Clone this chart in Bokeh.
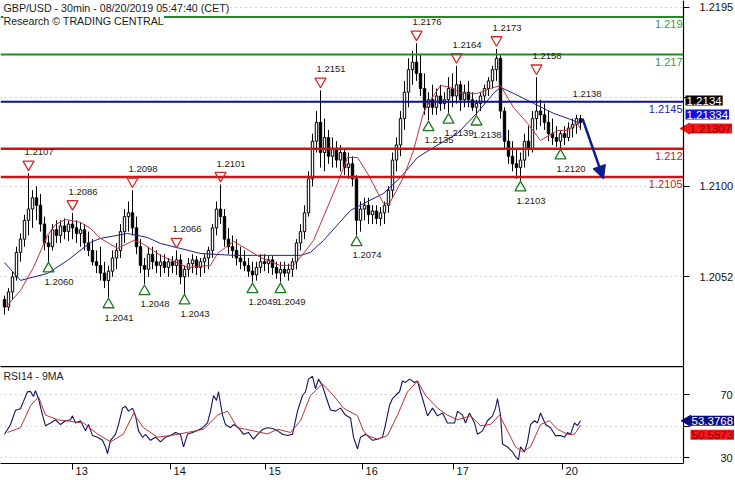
import math
from bokeh.plotting import figure
from bokeh.layouts import column
from bokeh.models import (Range1d, LinearAxis, FixedTicker, Label, Arrow, BoxAnnotation,
                          NormalHead, ColumnDataSource)
from bokeh.embed import file_html
from bokeh.resources import INLINE
from bokeh.core.properties import value

FONT = "Liberation Sans"

# ---------------- data (30-min GBP/USD, sampled per bar index) ----------------
opens = [1.2040, 1.2036, 1.2044, 1.2052, 1.2065, 1.2072, 1.2082, 1.2088, 1.2094, 1.2090,
         1.2080, 1.2070, 1.2068, 1.2077, 1.2074, 1.2079, 1.2076, 1.2080, 1.2078, 1.2075,
         1.2077, 1.2070, 1.2066, 1.2060, 1.2058, 1.2054, 1.2050, 1.2055, 1.2062, 1.2066,
         1.2076, 1.2084, 1.2086, 1.2078, 1.2068, 1.2058, 1.2056, 1.2064, 1.2060, 1.2058,
         1.2060, 1.2057, 1.2060, 1.2058, 1.2061, 1.2052, 1.2056, 1.2059, 1.2061, 1.2057,
         1.2060, 1.2062, 1.2066, 1.2078, 1.2088, 1.2084, 1.2072, 1.2068, 1.2066, 1.2062,
         1.2060, 1.2058, 1.2055, 1.2053, 1.2057, 1.2060, 1.2059, 1.2061, 1.2057, 1.2054,
         1.2056, 1.2054, 1.2056, 1.2060, 1.2070, 1.2076, 1.2086, 1.2104, 1.2124, 1.2134,
         1.2118, 1.2126, 1.2116, 1.2120, 1.2114, 1.2118, 1.2110, 1.2112, 1.2104, 1.2082,
         1.2088, 1.2090, 1.2085, 1.2087, 1.2083, 1.2086, 1.2090, 1.2098, 1.2114, 1.2122,
         1.2136, 1.2150, 1.2162, 1.2166, 1.2160, 1.2152, 1.2142, 1.2146, 1.2142, 1.2148,
         1.2144, 1.2146, 1.2152, 1.2148, 1.2154, 1.2146, 1.2150, 1.2146, 1.2142, 1.2144,
         1.2148, 1.2152, 1.2156, 1.2162, 1.2168, 1.2140, 1.2124, 1.2116, 1.2112, 1.2110,
         1.2114, 1.2124, 1.2120, 1.2136, 1.2140, 1.2138, 1.2134, 1.2128, 1.2126, 1.2124,
         1.2128, 1.2126, 1.2131, 1.2133, 1.2136]
highs = [1.2042, 1.2046, 1.2055, 1.2068, 1.2075, 1.2085, 1.2107, 1.2098, 1.2100, 1.2096,
         1.2084, 1.2074, 1.2080, 1.2082, 1.2082, 1.2083, 1.2082, 1.2086, 1.2082, 1.2081,
         1.2080, 1.2076, 1.2072, 1.2066, 1.2068, 1.2060, 1.2058, 1.2066, 1.2070, 1.2080,
         1.2088, 1.2092, 1.2098, 1.2084, 1.2072, 1.2062, 1.2068, 1.2068, 1.2066, 1.2064,
         1.2064, 1.2062, 1.2063, 1.2066, 1.2064, 1.2058, 1.2062, 1.2064, 1.2063, 1.2062,
         1.2064, 1.2068, 1.2080, 1.2092, 1.2101, 1.2088, 1.2078, 1.2074, 1.2072, 1.2068,
         1.2066, 1.2062, 1.2060, 1.2060, 1.2064, 1.2064, 1.2063, 1.2063, 1.2060, 1.2060,
         1.2060, 1.2059, 1.2062, 1.2072, 1.2080, 1.2090, 1.2108, 1.2128, 1.2140, 1.2151,
         1.2136, 1.2130, 1.2126, 1.2124, 1.2122, 1.2120, 1.2118, 1.2116, 1.2106, 1.2092,
         1.2094, 1.2094, 1.2090, 1.2090, 1.2089, 1.2092, 1.2100, 1.2118, 1.2126, 1.2140,
         1.2156, 1.2168, 1.2172, 1.2176, 1.2170, 1.2160, 1.2150, 1.2154, 1.2152, 1.2154,
         1.2150, 1.2158, 1.2160, 1.2164, 1.2156, 1.2154, 1.2156, 1.2150, 1.2146, 1.2150,
         1.2154, 1.2158, 1.2164, 1.2173, 1.2170, 1.2142, 1.2130, 1.2124, 1.2120, 1.2118,
         1.2128, 1.2132, 1.2140, 1.2158, 1.2146, 1.2144, 1.2140, 1.2136, 1.2132, 1.2130,
         1.2132, 1.2134, 1.2136, 1.2138, 1.2138]
lows = [1.2032, 1.2034, 1.2040, 1.2050, 1.2060, 1.2068, 1.2074, 1.2078, 1.2082, 1.2076,
        1.2066, 1.2060, 1.2066, 1.2070, 1.2070, 1.2072, 1.2071, 1.2072, 1.2070, 1.2068,
        1.2066, 1.2063, 1.2058, 1.2054, 1.2050, 1.2046, 1.2041, 1.2052, 1.2056, 1.2062,
        1.2070, 1.2076, 1.2074, 1.2064, 1.2054, 1.2048, 1.2052, 1.2056, 1.2054, 1.2052,
        1.2054, 1.2052, 1.2054, 1.2053, 1.2048, 1.2043, 1.2052, 1.2054, 1.2053, 1.2052,
        1.2054, 1.2056, 1.2062, 1.2074, 1.2080, 1.2068, 1.2064, 1.2062, 1.2058, 1.2056,
        1.2055, 1.2052, 1.2049, 1.2050, 1.2054, 1.2055, 1.2054, 1.2053, 1.2051, 1.2049,
        1.2052, 1.2050, 1.2052, 1.2056, 1.2066, 1.2072, 1.2084, 1.2100, 1.2118, 1.2110,
        1.2108, 1.2112, 1.2110, 1.2110, 1.2108, 1.2106, 1.2104, 1.2100, 1.2074, 1.2076,
        1.2082, 1.2080, 1.2080, 1.2080, 1.2079, 1.2080, 1.2086, 1.2094, 1.2108, 1.2116,
        1.2130, 1.2142, 1.2154, 1.2156, 1.2148, 1.2138, 1.2135, 1.2138, 1.2138, 1.2140,
        1.2141, 1.2139, 1.2142, 1.2144, 1.2140, 1.2142, 1.2142, 1.2140, 1.2138, 1.2140,
        1.2144, 1.2148, 1.2152, 1.2156, 1.2136, 1.2120, 1.2112, 1.2108, 1.2104, 1.2103,
        1.2110, 1.2116, 1.2118, 1.2130, 1.2132, 1.2130, 1.2124, 1.2122, 1.2121, 1.2120,
        1.2122, 1.2124, 1.2126, 1.2128, 1.2130]
closes = [1.2036, 1.2044, 1.2052, 1.2065, 1.2072, 1.2082, 1.2088, 1.2094, 1.2090, 1.2080,
          1.2070, 1.2068, 1.2077, 1.2074, 1.2079, 1.2076, 1.2080, 1.2078, 1.2075, 1.2077,
          1.2070, 1.2066, 1.2060, 1.2058, 1.2054, 1.2050, 1.2055, 1.2062, 1.2066, 1.2076,
          1.2084, 1.2086, 1.2078, 1.2068, 1.2058, 1.2056, 1.2064, 1.2060, 1.2058, 1.2060,
          1.2057, 1.2060, 1.2058, 1.2061, 1.2052, 1.2056, 1.2059, 1.2061, 1.2057, 1.2060,
          1.2062, 1.2066, 1.2078, 1.2088, 1.2084, 1.2072, 1.2068, 1.2066, 1.2062, 1.2060,
          1.2058, 1.2055, 1.2053, 1.2057, 1.2060, 1.2059, 1.2061, 1.2057, 1.2054, 1.2056,
          1.2054, 1.2056, 1.2060, 1.2070, 1.2076, 1.2086, 1.2104, 1.2124, 1.2134, 1.2118,
          1.2126, 1.2116, 1.2120, 1.2114, 1.2118, 1.2110, 1.2112, 1.2104, 1.2082, 1.2088,
          1.2090, 1.2085, 1.2087, 1.2083, 1.2086, 1.2090, 1.2098, 1.2114, 1.2122, 1.2136,
          1.2150, 1.2162, 1.2166, 1.2160, 1.2152, 1.2142, 1.2146, 1.2142, 1.2148, 1.2144,
          1.2146, 1.2152, 1.2148, 1.2154, 1.2146, 1.2150, 1.2146, 1.2142, 1.2144, 1.2148,
          1.2152, 1.2156, 1.2162, 1.2168, 1.2140, 1.2124, 1.2116, 1.2112, 1.2110, 1.2114,
          1.2124, 1.2120, 1.2136, 1.2140, 1.2138, 1.2134, 1.2128, 1.2126, 1.2124, 1.2128,
          1.2126, 1.2131, 1.2133, 1.2136, 1.2134]

# moving averages drawn on the price panel (bar index, price)
ma_fast_idx = [0.25, 4, 7.25, 10.75, 12.75, 15.25, 19, 21.5, 24, 28.25,
               32.25, 34, 39, 45.75, 51.5, 53.25, 57.25, 60.25, 64, 68.75,
               72.25, 74.75, 77.25, 83.25, 85.75, 88.25, 90.75, 94.75, 96.25, 99.75,
               102.25, 104.75, 106.5, 109, 111.5, 114, 118.25, 121.5, 124, 127.25,
               130.75, 134, 138.25, 140.75, 143.25, 144]
ma_fast_val = [1.20357, 1.20448, 1.20570, 1.20740, 1.20798, 1.20825, 1.20809, 1.20777, 1.20724, 1.20671,
               1.20713, 1.20703, 1.20634, 1.20570, 1.20581, 1.20644, 1.20708, 1.20671, 1.20623, 1.20581,
               1.20581, 1.20644, 1.20713, 1.21016, 1.21154, 1.21154, 1.21069, 1.20910, 1.20910, 1.21048,
               1.21191, 1.21393, 1.21457, 1.21536, 1.21526, 1.21494, 1.21494, 1.21520, 1.21536, 1.21419,
               1.21335, 1.21244, 1.21297, 1.21297, 1.21335, 1.21307]
ma_slow_idx = [0, 4, 10.75, 15.75, 21.5, 24, 30.75, 35.75, 39, 49,
               57.25, 74, 76.5, 79.75, 86.5, 94.75, 99, 103.25, 107.25, 113.25,
               118.25, 122.25, 124, 127.25, 132.25, 137.25, 142.25, 144]
ma_slow_val = [1.20596, 1.20501, 1.20538, 1.20607, 1.20703, 1.20724, 1.20750, 1.20729, 1.20697, 1.20644,
               1.20634, 1.20634, 1.20650, 1.20713, 1.20873, 1.20963, 1.21048, 1.21154, 1.21207, 1.21281,
               1.21393, 1.21494, 1.21526, 1.21494, 1.21441, 1.21388, 1.21350, 1.21334]

# pivots
peak_idx = [6, 17, 32, 43, 54, 79, 103, 113, 123, 133]
peak_val = [1.2107, 1.2086, 1.2098, 1.2066, 1.2101, 1.2151, 1.2176, 1.2164, 1.2173, 1.2158]
pending_peak_idx = [143]
pending_peak_val = [1.2138]
trough_idx = [11, 26, 35, 45, 62, 69, 88, 106, 111, 118, 129, 139]
trough_val = [1.2060, 1.2041, 1.2048, 1.2043, 1.2049, 1.2049, 1.2074, 1.2135, 1.2139, 1.2138, 1.2103, 1.2120]

# key levels
levels = [1.2190, 1.2170, 1.2145, 1.2120, 1.2105]
level_labels = ["1.219", "1.217", "1.2145", "1.212", "1.2105"]
level_kind = ["res", "res", "pivot", "sup", "sup"]

# forecast arrow (bar index, price)
forecast_idx = [144.5, 149.75]
forecast_val = [1.2136, 1.2104]

# last values shown as tags
last_close = 1.2134
last_ma_slow = 1.21334
last_ma_fast = 1.21307

price_ticks = [1.2052, 1.2100, 1.2147, 1.2195]

# RSI14 and its 9MA
rsi_idx = [0, 1.5, 2.75, 4, 4.75, 5.75, 6.5, 7.25, 7.75, 8.5,
           9.5, 10.25, 11.5, 12.75, 14, 15.25, 16.5, 17, 17.75, 19,
           20.25, 21, 22, 23.25, 24.5, 25.25, 25.75, 26.5, 27.75, 28.5,
           29.5, 30.25, 31, 32, 32.75, 33.5, 34.5, 35.25, 36.5, 37.75,
           39, 40.25, 41.5, 42.75, 44, 44.75, 45.75, 47, 48.25, 49.5,
           50.75, 51.5, 52.25, 53, 53.5, 54.5, 55.25, 56.5, 57.25, 58.5,
           59.75, 61, 62.25, 63.25, 64.5, 65.75, 67, 68.25, 69.5, 70.75,
           72, 73.25, 74.5, 75.25, 76, 77, 77.75, 78.5, 79.5, 80.25,
           81.5, 82.75, 84, 85.25, 86.5, 87.25, 88.25, 89, 90.25, 90.75,
           92, 93.25, 94.5, 95.25, 96.25, 97, 97.75, 98.75, 99.5, 100.25,
           101.25, 102.5, 103.25, 104, 105, 105.75, 107, 108.25, 109.5, 110.75,
           112.5, 113.25, 114.5, 115.25, 116.25, 117.5, 118.25, 119.5, 120.75, 122,
           122.75, 123.25, 124, 124.5, 125.75, 127, 127.75, 128.5, 129, 130,
           130.75, 131.5, 132.5, 133.25, 134, 135.25, 136.5, 137.75, 139, 140,
           140.75, 141.5, 142.5, 143.25, 144]
rsi_val = [44.8, 51, 60, 61, 65.7, 71.8, 72, 68.8, 72.5, 67.5,
           57, 50.3, 52, 54, 51, 53.4, 54, 56.5, 52, 53.4,
           47, 51, 44, 43, 41, 36.8, 32.5, 41, 44.8, 51,
           61.4, 62.6, 59.5, 61.4, 56.5, 47, 42.9, 44.8, 41, 43,
           40, 43, 44, 46, 44.8, 36.8, 44.8, 46, 47.2, 49,
           52, 59.5, 69.4, 66.3, 71.8, 57, 51, 49, 51, 49,
           44.8, 46, 41.7, 44.8, 47.8, 49, 48.5, 47, 44.8, 44,
           44.8, 59.5, 69.4, 71.8, 79.8, 81.6, 73.7, 79.8, 75.5, 69.4,
           60.2, 59.5, 61.4, 57, 55.2, 43, 35.5, 43, 44.8, 44,
           41, 41.7, 43, 51, 63.2, 67.5, 69.4, 71.8, 78.6, 77.7,
           79.8, 77.7, 78.6, 71.8, 63.2, 56.5, 61.4, 56.5, 58.3, 52,
           52, 59.5, 57, 52, 58.3, 52, 44.8, 47, 53.4, 56.5,
           61.4, 67.5, 57, 38.6, 36.8, 33.7, 30.6, 28.7, 36.8, 33.7,
           40, 51, 53.4, 52, 58.3, 51, 49, 44, 44, 43,
           46, 44.8, 52, 50.3, 53.4]
rsi_ma_idx = [0.75, 4, 6.5, 8.5, 10.25, 13.25, 19.75, 23.25, 26.5, 29.75,
              32.25, 34.75, 38.25, 41.5, 45.75, 49.75, 53.25, 55.75, 58.25, 62.25,
              65.75, 68.25, 71.5, 74, 76.5, 79.5, 82.25, 84.75, 88.25, 89.75,
              90.75, 93.25, 95.75, 98.25, 100.75, 103.25, 105.25, 108.25, 110.75, 113.25,
              116.5, 119, 121.5, 123.75, 125.75, 127.75, 129.5, 131.5, 134, 136.25,
              138.25, 140.75, 142.5, 144]
rsi_ma_val = [46, 49, 63, 68.5, 57, 54, 52, 45, 40, 45,
              58, 49, 43, 44, 46, 48, 57, 59.5, 49, 47,
              45, 48, 46, 53.4, 69.4, 76.8, 69.4, 61.4, 56.5, 47,
              44, 41.7, 44, 57, 71.8, 78.6, 69.4, 61.4, 57, 54,
              56.5, 50.3, 51, 57, 47, 36.8, 33.7, 36.8, 51, 53.4,
              48, 44.8, 44.8, 50.6]
last_rsi = 53.3768
last_rsi_ma = 50.5573
rsi_ticks = [30, 50, 70]

day_ticks = [17, 41.5, 65.25, 89.5, 112.25, 139.5]
day_labels = ["13", "14", "15", "16", "17", "20"]

# ---------------- layout constants ----------------
W = 735
MAIN_H = 366
RSI_FIG_H = 113
X_LO, X_HI = -1.0, 182.75
AXIS_X = 169.75              # where the price scale sits
Y_LO, Y_HI = 1.20044, 1.21987
R_LO, R_HI = 26.3, 87.8
UPX = (X_HI - X_LO) / W      # x data units per pixel

GREEN = "#208c20"
BLUE = "#0c0ca6"
RED = "#cc1414"
NAVY = "#0d1a8c"
MA_RED = "#c0303a"
MA_BLUE = "#202090"


def style_right_axis(ax, ticks, overrides, standoff):
    ax.ticker = FixedTicker(ticks=ticks)
    ax.major_label_overrides = overrides
    ax.fixed_location = AXIS_X
    ax.major_tick_out = 6
    ax.major_tick_in = 0
    ax.minor_tick_out = 0
    ax.minor_tick_in = 0
    ax.axis_line_color = "black"
    ax.axis_line_width = 1.2
    ax.major_tick_line_color = "black"
    ax.major_label_text_font = FONT
    ax.major_label_text_font_size = "11px"
    ax.major_label_text_color = "#111111"
    ax.major_label_standoff = standoff


# ---------------- price panel ----------------
p = figure(width=W, height=MAIN_H,
           x_range=Range1d(X_LO, X_HI), y_range=Range1d(Y_LO, Y_HI),
           x_axis_location=None, y_axis_location="right",
           output_backend="svg", toolbar_location=None,
           min_border_left=0, min_border_top=0, min_border_bottom=0, min_border_right=0)
p.outline_line_color = None
p.xgrid.visible = False
p.ygrid.ticker = FixedTicker(ticks=price_ticks)
p.ygrid.grid_line_dash = "1 4"
p.ygrid.grid_line_color = "#a8a8a8"
style_right_axis(p.yaxis[0], price_ticks,
                 {t: ("" if t == 1.2147 else f"{t:.4f}") for t in price_ticks}, 10)

# white area right of the price scale hides the dotted grid there
p.add_layout(BoxAnnotation(left=AXIS_X, fill_color="white", fill_alpha=1,
                           line_color=None, level="underlay"))

idx = list(range(len(closes)))
src = ColumnDataSource(dict(
    x=idx, h=highs, l=lows,
    top=[max(o, c) for o, c in zip(opens, closes)],
    bot=[min(o, c) for o, c in zip(opens, closes)],
    fill=["white" if c >= o else "black" for o, c in zip(opens, closes)],
))
p.segment(x0="x", y0="l", x1="x", y1="h", source=src, line_color="black", line_width=1)
p.vbar(x="x", width=0.6, top="top", bottom="bot", source=src,
       fill_color="fill", line_color="black", line_width=1)

p.line(ma_slow_idx, ma_slow_val, line_color=MA_BLUE, line_width=1)
p.line(ma_fast_idx, ma_fast_val, line_color=MA_RED, line_width=1)

# level lines (drawn over the candles, ending at the price scale)
kind_color = {"res": GREEN, "pivot": BLUE, "sup": RED}
kind_text = {"res": "#3a9a3a", "pivot": "#1c1cb0", "sup": "#c42222"}
p.segment(x0=[X_LO] * len(levels), y0=levels, x1=[AXIS_X] * len(levels), y1=levels,
          line_color=[kind_color[k] for k in level_kind],
          line_width=[2.3 if k == "sup" else 2 for k in level_kind])
for lv, lb, kd in zip(levels, level_labels, level_kind):
    p.add_layout(Label(x=AXIS_X, y=lv, x_offset=-1, y_offset=-3, text=lb,
                       text_align="right", text_baseline="top",
                       text_color=kind_text[kd], text_font=FONT, text_font_size="11px"))

# pivot markers
ppx = (Y_HI - Y_LO) / MAIN_H
p.scatter(peak_idx, [v + 9 * ppx for v in peak_val], marker="inverted_triangle",
          size=11, fill_color=None, line_color="#d02a2a", line_width=1.3)
p.scatter(trough_idx, [v - 7 * ppx for v in trough_val], marker="triangle",
          size=11, fill_color=None, line_color="#1c7a1c", line_width=1.3)
all_peak_idx = peak_idx + pending_peak_idx
all_peak_val = peak_val + pending_peak_val
p.text(all_peak_idx, all_peak_val, text=[f"{v:.4f}" for v in all_peak_val],
       x_offset=-4, y_offset=-21, text_align="left", text_baseline="middle",
       text_font=value(FONT), text_font_size="9.5px", text_color="#222222")
p.text(trough_idx, trough_val, text=[f"{v:.4f}" for v in trough_val],
       x_offset=-4, y_offset=20, text_align="left", text_baseline="middle",
       text_font=value(FONT), text_font_size="9.5px", text_color="#222222")

# forecast arrow
p.add_layout(Arrow(x_start=forecast_idx[0], y_start=forecast_val[0],
                   x_end=forecast_idx[1], y_end=forecast_val[1],
                   line_color=NAVY, line_width=2.5,
                   end=NormalHead(size=13, fill_color=NAVY, line_color=NAVY)))

# title
p.add_layout(Label(x=X_LO, y=Y_HI, x_offset=3, y_offset=-1,
                   text="GBP/USD - 30min - 08/20/2019 05:47:40 (CET)",
                   text_baseline="top", text_align="left", text_color="#1a1a1a",
                   text_font=FONT, text_font_size="10.7px",
                   background_fill_color="white"))
p.add_layout(Label(x=X_LO, y=Y_HI, x_offset=3, y_offset=-14,
                   text="Research \u00a9 TRADING CENTRAL",
                   text_baseline="top", text_align="left", text_color="#1a1a1a",
                   text_font=FONT, text_font_size="10.7px",
                   background_fill_color="white"))

# price tags right of the scale
TAG_H = 14
tags = [(f"{last_close:.4f}", "black", "white", 2 * TAG_H, 2),
        (f"{last_ma_slow:.5f}", "#1010e0", "white", TAG_H, 2),
        (f"{last_ma_fast:.5f}", "#f01818", "#8a0000", 0, 5)]
for txt, bg, fg, dy, dx in tags:
    p.add_layout(Label(x=AXIS_X, y=last_ma_fast, x_offset=dx, y_offset=dy, text=txt,
                       text_align="left", text_baseline="middle", text_color=fg,
                       background_fill_color=bg, text_font=FONT, text_font_size="11.5px",
                       padding=1))
p.scatter([AXIS_X + 3 * UPX], [last_ma_fast], marker="triangle", angle=math.pi / 2,
          size=11, fill_color="#f01818", line_color="#f01818")

# ---------------- RSI panel ----------------
r = figure(width=W, height=RSI_FIG_H,
           x_range=p.x_range, y_range=Range1d(R_LO, R_HI),
           y_axis_location="right", output_backend="svg", toolbar_location=None,
           min_border_left=0, min_border_top=0, min_border_bottom=0, min_border_right=0)
r.outline_line_color = None
r.xgrid.visible = False
r.ygrid.ticker = FixedTicker(ticks=rsi_ticks)
r.ygrid.grid_line_dash = "1 4"
r.ygrid.grid_line_color = "#a8a8a8"
style_right_axis(r.yaxis[0], rsi_ticks,
                 {t: ("" if t == 50 else str(t)) for t in rsi_ticks}, 31)
r.add_layout(BoxAnnotation(left=AXIS_X, fill_color="white", fill_alpha=1,
                           line_color=None, level="underlay"))

rx = r.xaxis[0]
rx.ticker = FixedTicker(ticks=day_ticks)
rx.major_label_overrides = {t: "\u00a0" * 6 + lb for t, lb in zip(day_ticks, day_labels)}
rx.bounds = (X_LO, AXIS_X)
rx.major_tick_out = 6
rx.major_tick_in = 0
rx.minor_tick_out = 0
rx.minor_tick_in = 0
rx.axis_line_color = "black"
rx.major_label_text_font = FONT
rx.major_label_text_font_size = "11px"
rx.major_label_text_color = "#111111"
rx.major_label_standoff = -5

top_axis = LinearAxis(ticker=FixedTicker(ticks=[]), major_tick_out=0, major_tick_in=0,
                      minor_tick_out=0, minor_tick_in=0, major_label_text_font_size="0px",
                      axis_line_color="black", axis_line_width=1.5, bounds=(X_LO, AXIS_X))
r.add_layout(top_axis, "above")

r.line(rsi_idx, rsi_val, line_color="#14145a", line_width=1.1)
r.line(rsi_ma_idx, rsi_ma_val, line_color=MA_RED, line_width=1)

r.add_layout(Label(x=X_LO, y=R_HI, x_offset=3, y_offset=-3, text="RSI14 - 9MA",
                   text_baseline="top", text_align="left", text_color="#222222",
                   text_font=FONT, text_font_size="10.5px"))

r.add_layout(Label(x=AXIS_X, y=last_rsi, x_offset=7, y_offset=0, text=f"{last_rsi:.4f}",
                   text_align="left", text_baseline="middle", text_color="white",
                   background_fill_color="#0a0a80", text_font=FONT, text_font_size="11.5px",
                   padding=1))
r.add_layout(Label(x=AXIS_X, y=last_rsi, x_offset=7, y_offset=-TAG_H, text=f"{last_rsi_ma:.4f}",
                   text_align="left", text_baseline="middle", text_color="#8a0000",
                   background_fill_color="#f01818", text_font=FONT, text_font_size="11.5px",
                   padding=1))
r.scatter([AXIS_X + 4 * UPX], [last_rsi], marker="triangle", angle=math.pi / 2,
          size=11, fill_color="#0a0a80", line_color="#0a0a80")

layout = column(p, r, spacing=0)
open("out.html", "w").write(file_html(layout, INLINE))
